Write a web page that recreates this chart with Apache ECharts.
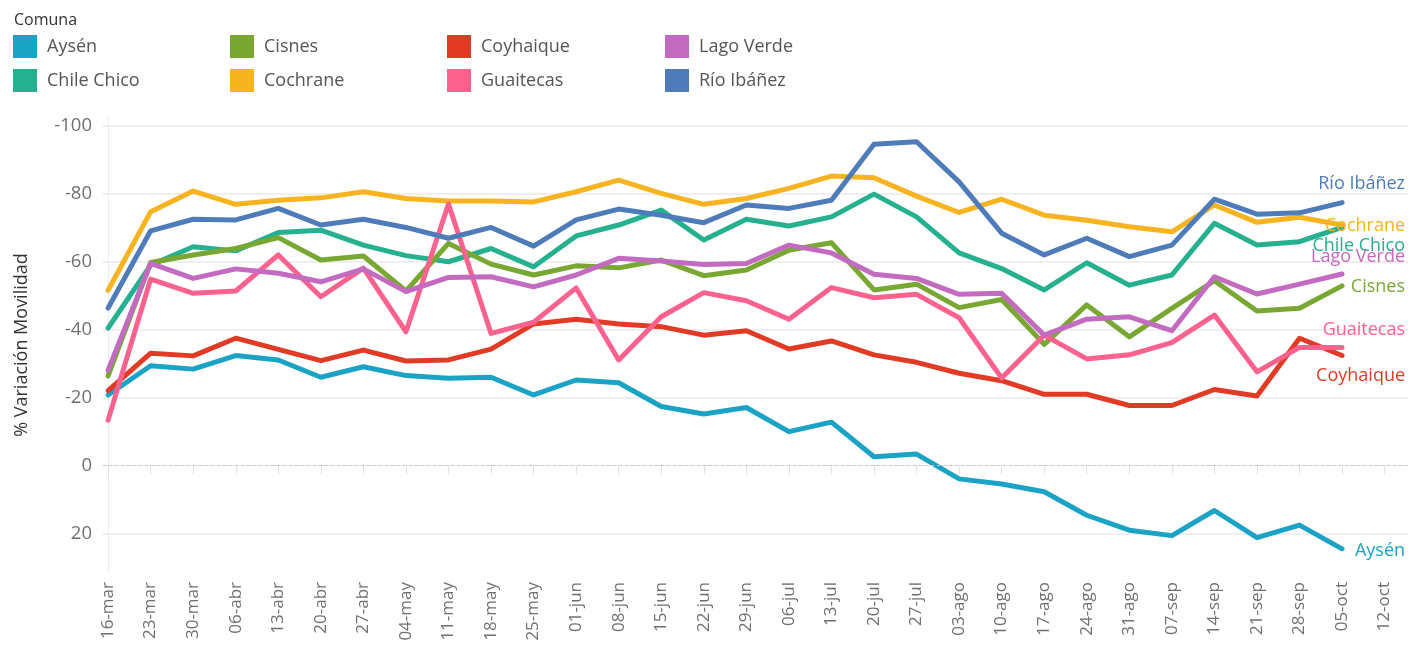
<!DOCTYPE html>
<html>
<head>
<meta charset="utf-8">
<title>% Variación Movilidad por comuna</title>
<script src="https://cdn.jsdelivr.net/npm/echarts@6/dist/echarts.min.js"></script>
<style>
  html, body { margin: 0; padding: 0; background: #fff; }
  #chart { width: 1421px; height: 650px; }
</style>
</head>
<body>
<div id="chart"></div>
<script>
// semanas (eje x)
const dates = ['16-mar', '23-mar', '30-mar', '06-abr', '13-abr', '20-abr', '27-abr', '04-may',
  '11-may', '18-may', '25-may', '01-jun', '08-jun', '15-jun', '22-jun', '29-jun', '06-jul',
  '13-jul', '20-jul', '27-jul', '03-ago', '10-ago', '17-ago', '24-ago', '31-ago', '07-sep',
  '14-sep', '21-sep', '28-sep', '05-oct', '12-oct']

// ticks del eje y
const yTicks = [-100, -80, -60, -40, -20, 0, 20]

// valores por comuna
const aysen = [-20.8, -29.4, -28.4, -32.4, -31.1, -26.0, -29.1, -26.5, -25.7, -26.0, -20.8, -25.2,
  -24.4, -17.4, -15.2, -17.1, -10.0, -12.8, -2.6, -3.4, 3.9, 5.4, 7.7, 14.6, 19.0, 20.6, 13.2,
  21.2, 17.5, 24.5]
const chileChico = [-40.5, -59.0, -64.4, -63.2, -68.6, -69.3, -64.9, -61.8, -60.0, -63.9, -58.5,
  -67.6, -70.8, -75.2, -66.4, -72.5, -70.5, -73.2, -79.9, -73.2, -62.6, -58.0, -51.7, -59.7,
  -53.1, -56.1, -71.3, -64.9, -65.9, -70.1]
const cisnes = [-26.4, -59.8, -62.0, -63.9, -67.1, -60.5, -61.7, -51.4, -65.4, -59.3, -56.1, -58.8,
  -58.2, -60.5, -55.9, -57.6, -63.4, -65.6, -51.7, -53.4, -46.5, -48.9, -35.7, -47.3, -37.9,
  -46.3, -54.4, -45.5, -46.3, -52.9]
const cochrane = [-51.6, -74.7, -80.8, -76.9, -78.1, -78.8, -80.6, -78.6, -77.9, -77.9, -77.6,
  -80.6, -84.0, -80.1, -76.9, -78.6, -81.6, -85.2, -84.7, -79.3, -74.5, -78.4, -73.7, -72.2,
  -70.3, -68.8, -76.7, -71.6, -73.1, -70.8]
const coyhaique = [-22.1, -33.1, -32.3, -37.5, -34.2, -30.9, -34.0, -30.8, -31.1, -34.3, -41.7,
  -43.1, -41.7, -40.9, -38.4, -39.7, -34.3, -36.7, -32.6, -30.4, -27.2, -25.0, -21.0, -21.0,
  -17.7, -17.7, -22.4, -20.5, -37.5, -32.4]
const guaitecas = [-13.4, -54.9, -50.7, -51.4, -62.0, -49.7, -58.1, -39.4, -77.0, -38.9, -42.2,
  -52.3, -31.1, -43.8, -50.9, -48.5, -43.1, -52.4, -49.4, -50.4, -43.5, -25.8, -38.4, -31.4,
  -32.6, -36.2, -44.3, -27.6, -34.8, -34.8]
const lagoVerde = [-28.1, -59.5, -55.1, -57.9, -56.6, -54.1, -57.9, -51.2, -55.4, -55.6, -52.6,
  -56.1, -61.0, -60.2, -59.2, -59.5, -64.9, -62.6, -56.3, -55.1, -50.4, -50.7, -38.4, -43.1,
  -43.8, -39.7, -55.6, -50.5, -53.4, -56.4]
const rioIbanez = [-46.4, -69.1, -72.5, -72.3, -75.7, -70.8, -72.5, -70.1, -66.9, -70.1, -64.6,
  -72.3, -75.5, -73.7, -71.5, -76.7, -75.7, -78.1, -94.6, -95.3, -83.5, -68.4, -62.0, -66.9,
  -61.5, -64.9, -78.4, -74.0, -74.4, -77.4]

// nombre, datos, color, desplazamiento vertical de la etiqueta final
const comunas = [
  { name: 'Aysén', values: aysen, color: '#1ba3c6', dy: 2 },
  { name: 'Chile Chico', values: chileChico, color: '#25b08f', dy: 18 },
  { name: 'Cisnes', values: cisnes, color: '#78a832', dy: 1 },
  { name: 'Cochrane', values: cochrane, color: '#f8b321', dy: 1 },
  { name: 'Coyhaique', values: coyhaique, color: '#e23b25', dy: 20 },
  { name: 'Guaitecas', values: guaitecas, color: '#fc628e', dy: -18 },
  { name: 'Lago Verde', values: lagoVerde, color: '#c26bc0', dy: -17 },
  { name: 'Río Ibáñez', values: rioIbanez, color: '#4e7cba', dy: -19 }
]

const FONT = '"Open Sans", "Noto Sans", sans-serif'
const chartInstance = echarts.init(document.getElementById('chart'))

// leyenda en 2 filas x 4 columnas (orden por columnas)
const legendCols = [13, 230, 447, 665]
const legendRows = [35, 69]
const legends = comunas.map((c, i) => ({
  data: [c.name],
  left: legendCols[Math.floor(i / 2)],
  top: legendRows[i % 2],
  padding: 0,
  icon: 'rect',
  itemWidth: 24,
  itemHeight: 23,
  selectedMode: false,
  textStyle: { fontFamily: FONT, fontSize: 18, color: '#555', padding: [0, 0, 0, 5] }
}))

const series = comunas.map((c, i) => ({
  name: c.name,
  type: 'line',
  data: c.values.map((v, idx) => [idx, v]),
  color: c.color,
  showSymbol: false,
  lineStyle: { width: 5, cap: 'round', join: 'round' },
  endLabel: {
    show: true,
    formatter: '{a}',
    align: 'right',
    distance: 63,
    offset: [0, c.dy],
    color: c.color,
    fontFamily: FONT,
    fontSize: 18
  },
  // línea punteada en 0
  markLine: i === 0 ? {
    silent: true,
    symbol: 'none',
    label: { show: false },
    lineStyle: { type: [3, 3], color: '#c4c4c4', width: 1 },
    data: [{ yAxis: 0 }]
  } : undefined
}))

const option = {
  animation: false,
  textStyle: { fontFamily: FONT },
  title: {
    text: 'Comuna',
    left: 9,
    top: 7,
    textStyle: { fontFamily: FONT, fontSize: 16, fontWeight: 500, color: '#333' }
  },
  legend: legends,
  grid: {
    left: 103,
    right: 13,
    top: 118,
    bottom: 78,
    containLabel: false,
    outerBoundsMode: 'none'
  },
  xAxis: {
    type: 'value',
    min: -0.12,
    max: 30.55,
    axisLine: { show: true, lineStyle: { color: '#e6e6e6', width: 1 } },
    axisTick: {
      show: true,
      length: 9,
      customValues: dates.map((d, i) => i),
      lineStyle: { color: '#e2e2e2' }
    },
    axisLabel: {
      customValues: dates.map((d, i) => i),
      formatter: v => dates[Math.round(v)],
      rotate: 90,
      margin: 10,
      fontSize: 17,
      color: '#707070'
    },
    splitLine: { show: false }
  },
  yAxis: {
    type: 'value',
    inverse: true,
    min: -102.3,
    max: 31.3,
    name: '% Variación Movilidad',
    nameLocation: 'middle',
    nameGap: 72,
    nameTextStyle: { fontSize: 18, color: '#333' },
    axisLine: { show: true, lineStyle: { color: '#ececec' } },
    // 0 se dibuja aparte como línea punteada
    axisTick: { show: false, customValues: yTicks.filter(t => t !== 0) },
    axisLabel: { customValues: yTicks, fontSize: 18.5, color: '#707070', margin: 11 },
    splitLine: { show: true, lineStyle: { color: '#efefef', width: 2 } }
  },
  series: series
}

chartInstance.setOption(option)
</script>
</body>
</html>
